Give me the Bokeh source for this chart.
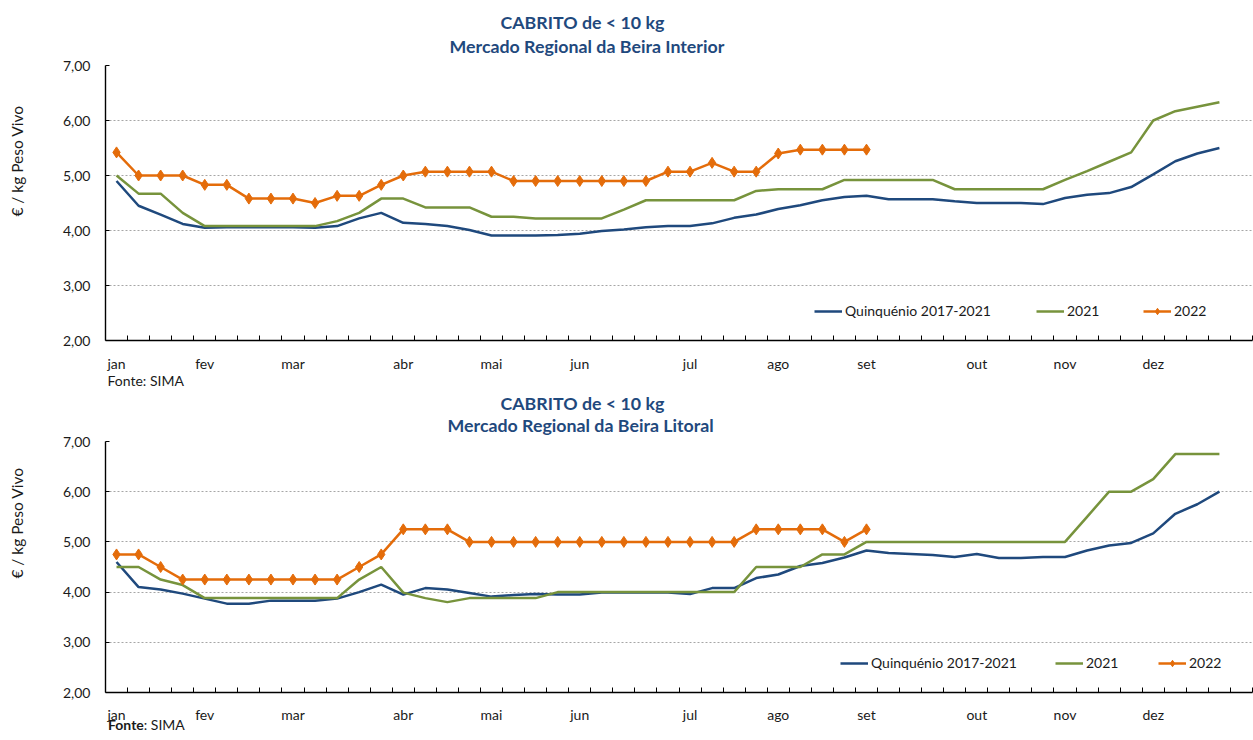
import math
from bokeh.plotting import figure
from bokeh.layouts import column, row
from bokeh.models import (Range1d, FixedTicker, CustomJSTickFormatter, Legend, LegendItem, Title, Div)
from bokeh.embed import file_html
from bokeh.resources import INLINE

# ---------------- data ----------------
month_labels = ["jan", "fev", "mar", "abr", "mai", "jun", "jul", "ago", "set", "out", "nov", "dez"]
month_weeks = [0, 4, 8, 13, 17, 21, 26, 30, 34, 39, 43, 47]
n_weeks = 52

interior_quinq = [4.90, 4.45, 4.29, 4.12, 4.05, 4.06, 4.06, 4.06, 4.06, 4.05,
                  4.08, 4.22, 4.32, 4.14, 4.12, 4.08, 4.01, 3.91, 3.91, 3.91,
                  3.92, 3.94, 3.99, 4.02, 4.06, 4.08, 4.08, 4.13, 4.23, 4.29,
                  4.39, 4.46, 4.55, 4.61, 4.63, 4.57, 4.57, 4.57, 4.53, 4.50,
                  4.50, 4.50, 4.48, 4.59, 4.65, 4.68, 4.79, 5.02, 5.26, 5.40, 5.50]
interior_2021 = [5.00, 4.67, 4.67, 4.32, 4.08, 4.08, 4.08, 4.08, 4.08, 4.08,
                 4.17, 4.32, 4.58, 4.58, 4.42, 4.42, 4.42, 4.25, 4.25, 4.22,
                 4.22, 4.22, 4.22, 4.38, 4.55, 4.55, 4.55, 4.55, 4.55, 4.72,
                 4.75, 4.75, 4.75, 4.92, 4.92, 4.92, 4.92, 4.92, 4.75, 4.75,
                 4.75, 4.75, 4.75, 4.92, 5.08, 5.25, 5.42, 6.00, 6.17, 6.25, 6.33]
interior_2022 = [5.42, 5.00, 5.00, 5.00, 4.83, 4.83, 4.58, 4.58, 4.58, 4.50,
                 4.63, 4.63, 4.83, 5.00, 5.07, 5.07, 5.07, 5.07, 4.90, 4.90,
                 4.90, 4.90, 4.90, 4.90, 4.90, 5.07, 5.07, 5.23, 5.07, 5.07,
                 5.40, 5.47, 5.47, 5.47, 5.47]

litoral_quinq = [4.60, 4.10, 4.05, 3.97, 3.87, 3.77, 3.77, 3.83, 3.83, 3.83,
                 3.87, 4.00, 4.15, 3.95, 4.08, 4.05, 3.98, 3.91, 3.94, 3.96,
                 3.95, 3.95, 3.99, 3.99, 3.99, 3.99, 3.96, 4.08, 4.08, 4.28,
                 4.35, 4.52, 4.58, 4.69, 4.83, 4.78, 4.76, 4.74, 4.70, 4.76,
                 4.68, 4.68, 4.70, 4.70, 4.83, 4.93, 4.98, 5.17, 5.56, 5.75, 6.00]
litoral_2021 = [4.50, 4.50, 4.25, 4.14, 3.88, 3.88, 3.88, 3.88, 3.88, 3.88,
                3.88, 4.25, 4.50, 3.99, 3.88, 3.80, 3.88, 3.88, 3.88, 3.88,
                4.00, 4.00, 4.00, 4.00, 4.00, 4.00, 4.00, 4.00, 4.00, 4.50,
                4.50, 4.50, 4.75, 4.75, 5.00, 5.00, 5.00, 5.00, 5.00, 5.00,
                5.00, 5.00, 5.00, 5.00, 5.50, 6.00, 6.00, 6.25, 6.75, 6.75, 6.75]
litoral_2022 = [4.75, 4.75, 4.50, 4.25, 4.25, 4.25, 4.25, 4.25, 4.25, 4.25,
                4.25, 4.50, 4.75, 5.25, 5.25, 5.25, 5.00, 5.00, 5.00, 5.00,
                5.00, 5.00, 5.00, 5.00, 5.00, 5.00, 5.00, 5.00, 5.00, 5.25,
                5.25, 5.25, 5.25, 5.00, 5.25]

series_names = ["Quinquénio 2017-2021", "2021", "2022"]
title_main = "CABRITO de < 10 kg"
subtitle_interior = "Mercado Regional da Beira Interior"
subtitle_litoral = "Mercado Regional da Beira Litoral"
y_title = "€ / kg Peso Vivo"
source_text = "Fonte: SIMA"
y_ticks = [2, 3, 4, 5, 6, 7]

# ---------------- style ----------------
FONT = "Lato"
BLUE = "#1F497D"
GREEN = "#77933C"
ORANGE = "#E46C0A"
TITLE_COLOR = "#1F497D"
TXT = "#1a1a1a"
FS = "14px"
TFS = "17.8px"
SIDE_W = 35


def build(height, top, frame_h, quinq, y21, y22, subtitle, cfg):
    p = figure(width=1253 - SIDE_W, height=height, x_range=Range1d(-0.5, n_weeks - 0.5),
               y_range=Range1d(2, 7), output_backend="svg", toolbar_location=None,
               min_border_left=105 - SIDE_W, min_border_right=1, min_border_top=top,
               min_border_bottom=height - top - frame_h, outline_line_color=None,
               background_fill_color="white", border_fill_color="white")

    xa = p.xaxis[0]
    xa.ticker = FixedTicker(ticks=month_weeks, minor_ticks=[i + 0.5 for i in range(n_weeks)])
    xa.formatter = CustomJSTickFormatter(args=dict(w=month_weeks, m=month_labels),
                                         code="const i = w.indexOf(Math.round(tick)); return i >= 0 ? m[i] : '';")
    xa.major_tick_in = 0
    xa.major_tick_out = 0
    xa.minor_tick_in = 5
    xa.minor_tick_out = 0
    xa.minor_tick_line_color = "black"
    xa.minor_tick_line_width = 1
    xa.axis_line_color = "black"
    xa.axis_line_width = 1.6
    xa.major_label_standoff = cfg["xstand"]
    xa.major_label_text_font = FONT
    xa.major_label_text_font_size = FS
    xa.major_label_text_color = TXT

    ya = p.yaxis[0]
    ya.ticker = FixedTicker(ticks=y_ticks)
    ya.formatter = CustomJSTickFormatter(code="return tick.toFixed(2).replace('.', ',');")
    ya.major_tick_in = 4
    ya.major_tick_out = 0
    ya.minor_tick_in = 0
    ya.minor_tick_out = 0
    ya.axis_line_color = "black"
    ya.axis_line_width = 1.4
    ya.major_label_standoff = 15
    ya.major_label_text_font = FONT
    ya.major_label_text_font_size = FS
    ya.major_label_text_color = TXT

    p.xgrid.visible = False
    p.ygrid.grid_line_color = "#a6a6a6"
    p.ygrid.grid_line_dash = "2 2"
    p.ygrid.grid_line_width = 1

    x_all = list(range(n_weeks))
    r1 = p.line(x_all[:len(quinq)], quinq, line_color=BLUE, line_width=2.5)
    r2 = p.line(x_all[:len(y21)], y21, line_color=GREEN, line_width=2.5)
    r3 = p.line(x_all[:len(y22)], y22, line_color=ORANGE, line_width=2.5)
    r4 = p.scatter(x_all[:len(y22)], y22, marker="diamond", size=11,
                   fill_color=ORANGE, line_color=ORANGE)

    for rends, name, lx in zip([[r1], [r2], [r3, r4]], series_names, cfg["leg_x"]):
        leg = Legend(items=[LegendItem(label=name, renderers=rends)], location=(lx, cfg["leg_y"]),
                     orientation="horizontal", border_line_color=None, background_fill_alpha=0,
                     padding=0, margin=0, spacing=0, glyph_width=28, glyph_height=16,
                     label_height=16, label_standoff=3, label_text_font=FONT,
                     label_text_font_size=FS, label_text_color=TXT)
        p.add_layout(leg)

    # titles (first added sits closest to the plot)
    p.add_layout(Title(text=subtitle, align="left", offset=cfg["off1"], standoff=cfg["s1"],
                       text_font=FONT, text_font_style="bold", text_font_size=TFS,
                       text_color=TITLE_COLOR), "above")
    p.add_layout(Title(text=title_main, align="left", offset=cfg["off2"], standoff=cfg["s2"],
                       text_font=FONT, text_font_style="bold", text_font_size=TFS,
                       text_color=TITLE_COLOR), "above")
    if cfg["src_title"]:
        p.add_layout(Title(text=source_text, align="left", offset=2, standoff=-10,
                           text_font=FONT, text_font_style="normal", text_font_size=FS,
                           text_color=TXT), "below")
    return p


def side_title(height, center_y):
    html = ('<div style="height:%dpx; width:%dpx; display:flex; align-items:center; '
            'justify-content:center;"><span style="writing-mode:vertical-rl; transform:rotate(180deg); '
            'white-space:nowrap; font-family:Lato; font-size:15.5px; color:%s;">%s</span></div>'
            % (2 * center_y, 34, TXT, y_title))
    return Div(text=html, width=SIDE_W, height=height, margin=(0, 0, 0, 0))


H1, H2 = 393, 332
p1 = build(H1, 65, 275, interior_quinq, interior_2021, interior_2022, subtitle_interior,
           dict(xstand=14, leg_x=[709, 931, 1038], leg_y=21, s1=16.6, s2=-17.4,
                off1=344, off2=395, src_title=True))
p2 = build(H2, 48, 251, litoral_quinq, litoral_2021, litoral_2022, subtitle_litoral,
           dict(xstand=13, leg_x=[735, 950, 1053], leg_y=21, s1=10.6, s2=-15.4,
                off1=342, off2=395, src_title=False))

src2 = Div(text='<span style="position:relative; top:-8px; left:108px;"><b>Fonte</b>: SIMA</span>',
           width=1253, height=15, margin=(0, 0, 0, 0),
           styles={"font-family": FONT, "font-size": FS, "color": TXT, "line-height": "15px"})

layout = column(row(side_title(H1, 161), p1, spacing=0),
                row(side_title(H2, 523 - H1), p2, spacing=0),
                src2, spacing=0)
open("out.html", "w").write(file_html(layout, INLINE))
